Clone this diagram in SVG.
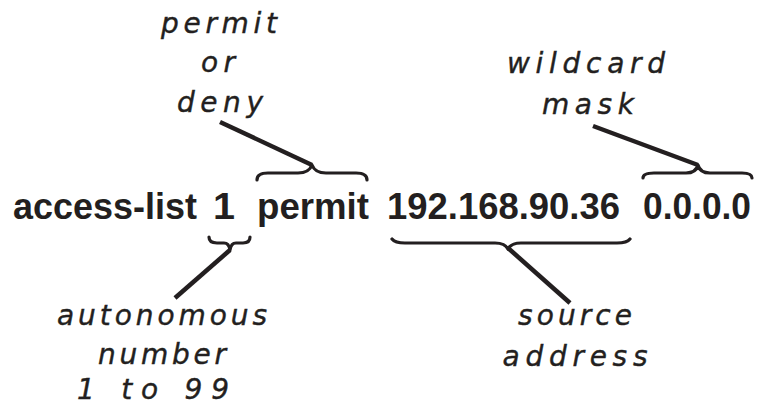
<svg xmlns="http://www.w3.org/2000/svg" width="759" height="406" viewBox="0 0 759 406">
<style>
.cmd{font-family:"Liberation Sans",Arial,sans-serif;font-weight:bold;font-size:36px;fill:#231f20}
.hand{font-family:"DejaVu Sans","Noto Sans",sans-serif;font-style:italic;font-size:28px;fill:#231f20;stroke:#231f20;stroke-width:0.4;text-anchor:middle}
.brace{fill:none;stroke:#231f20;stroke-width:3.2;stroke-linecap:round;stroke-linejoin:round}
.lead{stroke:#231f20;stroke-width:4.5;stroke-linecap:butt}
</style>
<rect width="759" height="406" fill="#ffffff"/>
<g id="command">
<text class="cmd" x="13" y="219" textLength="184" lengthAdjust="spacingAndGlyphs">access-list</text>
<text class="cmd" x="213" y="219" textLength="22" lengthAdjust="spacingAndGlyphs">1</text>
<text class="cmd" x="257" y="219" textLength="112" lengthAdjust="spacingAndGlyphs">permit</text>
<text class="cmd" x="387" y="219" textLength="233" lengthAdjust="spacingAndGlyphs">192.168.90.36</text>
<text class="cmd" x="643" y="219" textLength="108" lengthAdjust="spacingAndGlyphs">0.0.0.0</text>
</g>
<g id="label-permit-deny">
<text class="hand" x="219" y="33" textLength="116" lengthAdjust="spacing">permit</text>
<text class="hand" x="218" y="72" textLength="34" lengthAdjust="spacing">or</text>
<text class="hand" x="220" y="112" textLength="86" lengthAdjust="spacing">deny</text>
</g>
<g id="label-wildcard">
<text class="hand" x="586" y="73" textLength="158" lengthAdjust="spacing">wildcard</text>
<text class="hand" x="588" y="114" textLength="92" lengthAdjust="spacing">mask</text>
</g>
<g id="label-autonomous">
<text class="hand" x="162" y="325" textLength="210" lengthAdjust="spacing">autonomous</text>
<text class="hand" x="162" y="364" textLength="128" lengthAdjust="spacing">number</text>
<text class="hand" x="153" y="399" textLength="152" lengthAdjust="spacing">1 to 99</text>
</g>
<g id="label-source">
<text class="hand" x="575" y="325" textLength="114" lengthAdjust="spacing">source</text>
<text class="hand" x="575" y="366" textLength="145" lengthAdjust="spacing">address</text>
</g>
<g id="connectors">
<path class="brace" d="M257,180 Q257,173 268,173 L298,173 Q309,173 312,165 Q315,173 326,173 L356,173 Q367,173 367,180"/>
<path class="brace" d="M643,178 Q643,173 654,173 L686,173 Q696,173 698,165 Q700,173 710,173 L742,173 Q752,173 752,178"/>
<path class="brace" d="M209,237 Q209,243 217,243 L224,243 Q229,243 230,250 Q231,243 236,243 L243,243 Q250,243 250,237"/>
<path class="brace" d="M392,239 Q395,243 405,243 L495,243 Q505,243 508,249 Q511,243 521,243 L617,243 Q627,243 630,239"/>
<line class="lead" x1="312" y1="165" x2="220" y2="122"/>
<line class="lead" x1="698" y1="165" x2="593" y2="126"/>
<line class="lead" x1="230" y1="250" x2="175" y2="298"/>
<line class="lead" x1="508" y1="248" x2="570" y2="303"/>
</g>
</svg>
